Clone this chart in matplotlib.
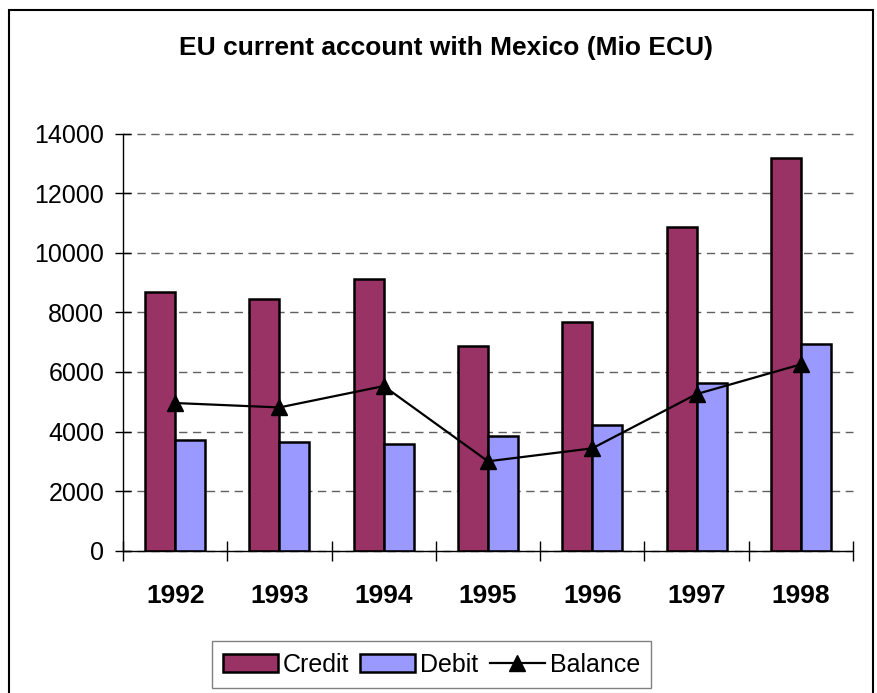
import matplotlib.pyplot as plt
import numpy as np
from matplotlib.patches import Rectangle

plt.rcParams["font.family"] = ["Liberation Sans", "DejaVu Sans"]

years = ["1992", "1993", "1994", "1995", "1996", "1997", "1998"]
credit = [8675, 8460, 9110, 6862, 7668, 10878, 13195]
debit = [3717, 3650, 3583, 3861, 4231, 5620, 6940]
balance = [4958, 4810, 5527, 3001, 3437, 5258, 6255]
y_ticks = [0, 2000, 4000, 6000, 8000, 10000, 12000, 14000]

W, H = 878, 693
fig = plt.figure(figsize=(W / 100, H / 100), dpi=100)
ax = fig.add_axes([123 / W, 1 - 550.7 / H, 730 / W, 417 / H])

x = np.arange(len(years))
bw = 0.288
b1 = ax.bar(x - bw / 2, credit, bw, color="#993366", edgecolor="black",
            linewidth=1.8, label="Credit", zorder=2)
b2 = ax.bar(x + bw / 2, debit, bw, color="#9999FF", edgecolor="black",
            linewidth=1.8, label="Debit", zorder=2)
ln, = ax.plot(x, balance, color="black", linewidth=1.6, marker="^",
              markersize=11, label="Balance", zorder=3)

ax.set_xlim(-0.5, len(years) - 0.5)
ax.set_ylim(0, 14000)
ax.set_yticks(y_ticks)
ax.set_yticklabels([str(v) for v in y_ticks], fontsize=18)
ax.tick_params(axis="y", direction="inout", length=11, width=1, pad=8)

ax.set_xticks(x)
ax.set_xticklabels(years, fontsize=19, fontweight="bold")
ax.tick_params(axis="x", which="major", length=0, pad=24)
ax.set_xticks(np.arange(-0.5, len(years)), minor=True)
ax.tick_params(axis="x", which="minor", direction="inout", length=14, width=1)

for s in ["top", "right"]:
    ax.spines[s].set_visible(False)
for s in ["left", "bottom"]:
    ax.spines[s].set_linewidth(1)
    ax.spines[s].set_zorder(4)

ax.yaxis.grid(True, linestyle=(0, (6, 4)), color="#606060", linewidth=1)
ax.set_axisbelow(True)
for gl in ax.yaxis.get_gridlines():
    gl.set_clip_on(False)

fig.text(446.5 / W, 1 - 48 / H, "EU current account with Mexico (Mio ECU)",
         ha="center", va="center", fontsize=19, fontweight="bold")

fig.legend([b1, b2, ln], ["Credit", "Debit", "Balance"],
           loc="center", bbox_to_anchor=(431.5 / W, 1 - 664.5 / H), ncol=3,
           fontsize=18, frameon=True, fancybox=False, edgecolor="#808080",
           framealpha=1, handlelength=2.2, handletextpad=0.2,
           columnspacing=0.45, borderpad=0.45)

# outer chart frame
fig.patches.append(Rectangle((9 / W, -0.01), 864 / W, 1.01 - 10 / H,
                             transform=fig.transFigure, fill=False,
                             edgecolor="black", linewidth=1.5))

fig.savefig("out.png", dpi=100)
